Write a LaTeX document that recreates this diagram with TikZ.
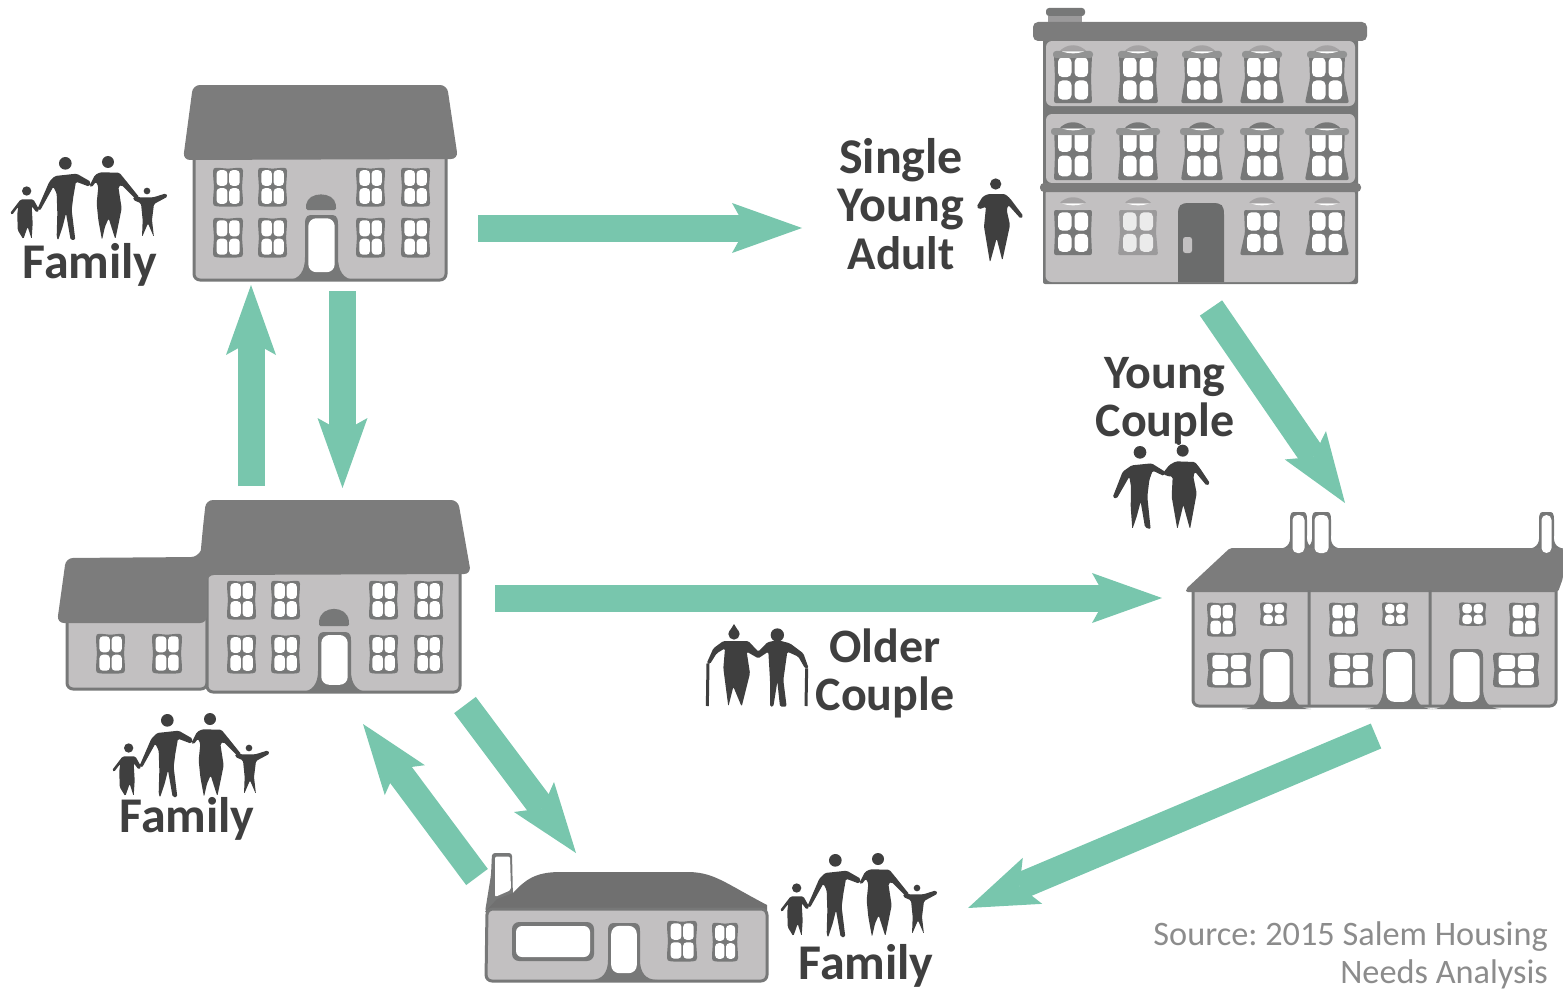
\documentclass[tikz,border=0pt]{standalone}
\usepackage{fontspec}
\setmainfont{Carlito}
\usetikzlibrary{arrows.meta}
\definecolor{flowgreen}{HTML}{78C6AD}
\definecolor{wallgray}{HTML}{C2C0C1}
\definecolor{roofgray}{HTML}{7C7C7C}
\definecolor{frmgray}{HTML}{777878}
\definecolor{inkgray}{HTML}{3F3F3F}
\definecolor{srcgray}{HTML}{8C8C8C}
\tikzset{
 flow/.style={draw=flowgreen,line width=27pt,-{Stealth[length=70pt,width=50pt,inset=14pt,line width=0pt,fill=flowgreen]}},
 wall/.style={fill=wallgray,draw=frmgray,line width=3pt,rounded corners=6pt},
 roof/.style={fill=roofgray,rounded corners=7pt},
 person/.style={fill=inkgray,rounded corners=1.5pt},
 label/.style={text=inkgray,font=\fontsize{50}{48}\selectfont\bfseries,align=center,inner sep=0pt},
 couplelabel/.style={label,font=\fontsize{48}{48}\selectfont\bfseries},
 source/.style={text=srcgray,font=\fontsize{34.3}{38}\selectfont\frenchspacing,align=right,inner sep=0pt,anchor=east}
}
% window: left top right bottom
\newcommand{\hwin}[4]{\begin{scope}[shift={(#1,#2)},xscale=#3-#1,yscale=#4-#2]
 \fill[frmgray] plot[smooth cycle] coordinates {(.1,.02)(.5,.04)(.9,.02)(1,.1)(.97,.5)(1,.9)(.9,.98)(.5,.99)(.1,.98)(0,.9)(.03,.5)(0,.1)};
 \fill[white,rounded corners=3.5pt] (.12,.08) rectangle (.48,.47) (.54,.08) rectangle (.89,.47) (.12,.53) rectangle (.48,.92) (.54,.53) rectangle (.89,.92);
\end{scope}}
% door: left top right base
\newcommand{\hdoor}[4]{\begin{scope}[shift={(#1,#2)},xscale=#3-#1,yscale=#4-#2]
 \fill[frmgray] (-.55,1) .. controls (-.15,1) and (0,.85) .. (0,.65) -- (0,.14) .. controls (0,0) and (.1,0) .. (.25,0) -- (.75,0) .. controls (.9,0) and (1,0) .. (1,.14) -- (1,.65) .. controls (1,.85) and (1.15,1) .. (1.55,1) -- cycle;
 \fill[white,rounded corners=8pt] (.1,.05) rectangle (.9,.88);
\end{scope}}
% door hood: left top right bottom
\newcommand{\hhood}[4]{\fill[frmgray,rounded corners=1.5pt] (#1,#4) -- (#1,#4-4) .. controls (#1+2,#2-3) and (#3-2,#2-3) .. (#3,#4-4) -- (#3,#4) -- cycle;}
% apartment window: cx top bottom tophalf bothalf frame pane
\newcommand{\awin}[7]{\begin{scope}[shift={(#1,#2)},yscale=#3-#2]
 \fill[#6,rounded corners=2pt] (-#4,0) -- (#4,0) -- (#4-1,.5) -- (#5,1) -- (-#5,1) -- (-#4+1,.5) -- cycle;
 \fill[#7,rounded corners=4.5pt] (-15,.05) rectangle (-1.5,.46) (1.5,.05) rectangle (15,.46) (-15,.53) rectangle (-1.5,.93) (1.5,.53) rectangle (15,.93);
\end{scope}}
% apartment hood: cx y domecolor bandcolor bandhalf
\newcommand{\ahood}[5]{\begin{scope}[shift={(#1,#2)}]
 \fill[#3] (-14,7) .. controls (-7,-2) and (7,-2) .. (14,7) -- cycle;
 \fill[#4,rounded corners=3pt] (-#5,6) rectangle (#5,13);
 \fill[white] (-11,6.5) .. controls (-4,9) and (4,9) .. (11,6.5) -- cycle;
\end{scope}}
% family, drawn in 3x coordinates
\newcommand{\family}[2]{\begin{scope}[shift={(#1,#2)},scale=1/3]
 \fill[inkgray] (80,333) circle (14) (196,250) circle (19) (324,246) circle (18) (441,333) circle (10);
 \fill[person] (30,400)--(62,358)--(100,358)--(118,390)--(110,398)--(95,378)--(98,430)--(95,478)--(83,440)--(70,478)--(53,450)--(52,400)--(55,380)--(36,405)--cycle;
 \fill[person] (112,388)--(148,305)--(165,288)--(230,281)--(272,305)--(268,320)--(228,305)--(220,350)--(215,390)--(226,480)--(212,480)--(198,400)--(188,440)--(174,482)--(170,470)--(172,400)--(170,340)--(160,320)--(120,392)--cycle;
 \fill[person] (268,318)--(285,285)--(300,277)--(358,278)--(372,295)--(418,352)--(412,362)--(365,315)--(355,320)--(365,385)--(358,420)--(346,478)--(326,415)--(315,440)--(306,480)--(295,420)--(290,370)--(295,320)--(288,305)--(275,322)--cycle;
 \fill[person] (400,350)--(420,352)--(460,352)--(498,340)--(503,350)--(462,372)--(456,420)--(462,472)--(444,430)--(426,472)--(428,420)--(423,370)--(400,360)--cycle;
\end{scope}}
\begin{document}
\begin{tikzpicture}[x=1pt,y=-1pt]
\useasboundingbox (0,0) rectangle (1563,990);
% connector ends
\coordinate (aS) at (478,228); \coordinate (aE) at (802,228);
\coordinate (bS) at (251,486); \coordinate (bE) at (251,285);
\coordinate (cS) at (342.5,291); \coordinate (cE) at (342.5,488);
\coordinate (dS) at (495,598); \coordinate (dE) at (1162,598);
\coordinate (eS) at (1211,308); \coordinate (eE) at (1345,503);
\coordinate (fS) at (1376,736); \coordinate (fE) at (968,908);
\coordinate (gS) at (465,705); \coordinate (gE) at (576,853);
\coordinate (hS) at (477,877); \coordinate (hE) at (363,724);
\draw[flow] (aS) -- (aE);
\draw[flow] (bS) -- (bE);
\draw[flow] (cS) -- (cE);
\draw[flow] (dS) -- (dE);
\draw[flow] (eS) -- (eE);
\draw[flow] (fS) -- (fE);
\draw[flow] (gS) -- (gE);
\draw[flow] (hS) -- (hE);
% house 1
\draw[wall] (194,150) -- (194,280) -- (446,280) -- (446,150) -- cycle;
\fill[roof] (193,85) -- (447,85) -- (458,159) -- (183,160) -- cycle;
\foreach \a/\b in {213/243,258/287,356/385,401/430}{\hwin{\a}{167}{\b}{207}\hwin{\a}{217}{\b}{258}}
\hhood{306}{194}{336}{210}
\hdoor{305}{215}{338}{280}
% house 2
\draw[wall] (67,610) -- (67,689) -- (207,689) -- (207,610) -- cycle;
\draw[wall] (207,560) -- (207,692) -- (460,692) -- (460,560) -- cycle;
\fill[roof] (66,558) -- (198,557) .. controls (201,550) and (202,535) .. (206,500) -- (458,500) -- (471,574) -- (207,575) -- (207,623) -- (57,623) -- cycle;
\foreach \a/\b in {227/256,271/300,369/398,414/443}{\hwin{\a}{580}{\b}{620}\hwin{\a}{634}{\b}{674}}
\hwin{96}{633}{125}{674}\hwin{152}{633}{182}{674}
\hhood{319}{608}{349}{626}
\hdoor{318}{632}{351}{692}
% apartment block
\fill[frmgray,rounded corners=3pt] (1046,8) rectangle (1085,16);
\fill[wallgray!80!black] (1048,16) rectangle (1082,23);
\fill[frmgray,rounded corners=2pt] (1043,30) rectangle (1358,284);
\fill[wallgray,rounded corners=6pt] (1046,41) rectangle (1355,106);
\fill[wallgray,rounded corners=6pt] (1046,114) rectangle (1355,183);
\fill[wallgray,rounded corners=6pt] (1045.5,188) rectangle (1355,282);
\fill[roofgray,rounded corners=5pt] (1033,22) rectangle (1367,41);
\fill[roofgray,rounded corners=4pt] (1040,183) rectangle (1361,192);
\foreach \c/\t/\b in {1073/19/19,1138/19/20,1202/18/21,1262/18/22,1327/18/22}{
 \awin{\c}{55}{103}{\t}{\b}{frmgray}{white}
 \ahood{\c}{45}{wallgray!85!black}{frmgray!80!white}{20}
 \awin{\c}{128}{180}{\t}{\b}{frmgray}{white}
 \ahood{\c}{122}{frmgray}{frmgray!80!white}{22}}
\foreach \c/\t/\b in {1073/19/19,1262/18/22,1327/18/22}{
 \awin{\c}{210}{255}{\t}{\b}{frmgray}{white}
 \ahood{\c}{197}{wallgray!85!black}{wallgray}{18}}
\awin{1138}{210}{255}{19}{20}{wallgray!80!black}{white!92!black}
\ahood{1138}{197}{wallgray!85!black}{wallgray}{18}
\fill[frmgray!90!black] (1178,282) -- (1178,215) .. controls (1178,205) and (1180,203) .. (1190,203) -- (1212,203) .. controls (1222,203) and (1224,205) .. (1224,215) -- (1224,282) -- cycle;
\fill[wallgray,rounded corners=2.5pt] (1183,237) rectangle (1192,253);
% terrace
\foreach \l/\r in {1290/1307,1312/1331,1539/1554}{
 \fill[frmgray] (\l-14,549) .. controls (\l-4,549) and (\l+1,545) .. (\l,535) -- (\l,520) .. controls (\l,512) and (\l+2,512) .. (\l+5,512) -- (\r-5,512) .. controls (\r-2,512) and (\r,512) .. (\r,520) -- (\r,535) .. controls (\r-1,545) and (\r+4,549) .. (\r+14,549) -- cycle;}
\draw[wall] (1193,585) -- (1193,706) -- (1556,706) -- (1556,585) -- cycle;
\fill[roofgray,rounded corners=2pt] (1186,589) -- (1230,548) -- (1563,548) -- (1563,578) -- (1558,592) -- (1186,592) -- cycle;
\foreach \l/\r in {1290/1307,1312/1331,1539/1554}{
 \fill[white,rounded corners=5pt] (\l+2.5,515) rectangle (\r-2.5,553);}
\fill[frmgray] (1307.5,590) rectangle (1310.5,706) (1428.5,590) rectangle (1431.5,706);
\foreach \a/\b in {1207/1236,1329/1358,1509/1539}{\hwin{\a}{602}{\b}{637}}
\foreach \a/\b in {1260/1287,1382/1408,1459/1486}{\hwin{\a}{602}{\b}{626}}
\foreach \a/\b in {1207/1251,1329/1373,1493/1539}{\hwin{\a}{652}{\b}{688}}
\hdoor{1260}{649}{1293}{709}
\hdoor{1383}{649}{1415}{709}
\hdoor{1450}{649}{1483}{709}
% bungalow
\fill[frmgray,rounded corners=3pt] (485,912) -- (491,875) -- (492,853) -- (512,853) -- (513,900) -- cycle;
\fill[white,rounded corners=2pt] (495,856.5) -- (510,856.5) -- (511,890) -- (495,897) -- cycle;
\fill[roofgray!90!black] (497,899) -- (513,893) .. controls (525,880) and (535,872) .. (560,872) -- (690,872) .. controls (715,873) and (725,883) .. (767,905) -- (767,912) -- (485,912) -- cycle;
\draw[wall] (487,909) -- (486,981) -- (767,981) -- (767,909) -- cycle;
\fill[frmgray,rounded corners=7pt] (512,922) rectangle (594,961);
\fill[white,rounded corners=6pt] (516,926) rectangle (590,957);
\hdoor{608}{923}{640}{980}
\hwin{667}{920}{697}{962}\hwin{712}{922}{738}{962}
% people
\family{0}{80}
\family{102}{637}
\family{770}{777}
% young couple
\begin{scope}[shift={(1100,440)},scale=1/3]
 \fill[inkgray] (120,37) circle (19) (248,32) circle (18) (236,8) circle (7);
 \fill[person] (38,172)--(68,95)--(95,76)--(155,70)--(195,95)--(192,108)--(158,92)--(148,120)--(142,170)--(152,268)--(135,262)--(122,185)--(110,230)--(97,268)--(92,200)--(93,140)--(88,110)--(50,176)--cycle;
 \fill[person] (188,100)--(208,75)--(228,64)--(285,66)--(300,85)--(330,130)--(320,137)--(285,95)--(280,110)--(290,160)--(270,268)--(250,195)--(232,268)--(215,170)--(218,110)--(200,108)--cycle;
\end{scope}
% older couple
\begin{scope}[shift={(690,610)},scale=1/3]
 \fill[inkgray] (132,72) circle (17) (262,75) circle (20);
 \fill[inkgray] (132,42) -- (116,68) -- (148,68) -- cycle;
 \fill[person] (50,160)--(70,115)--(100,93)--(175,93)--(205,125)--(232,97)--(262,90)--(300,100)--(340,130)--(356,175)--(345,175)--(325,140)--(292,125)--(280,210)--(290,290)--(270,290)--(262,215)--(250,290)--(240,290)--(240,210)--(235,125)--(205,145)--(170,125)--(180,190)--(155,290)--(130,230)--(115,290)--(100,175)--(105,115)--(80,130)--(60,162)--cycle;
 \draw[inkgray,line width=3pt] (54,160) -- (52,288) (350,175) -- (348,288);
\end{scope}
% single adult
\begin{scope}[shift={(960,170)},scale=1/3]
 \fill[inkgray] (107,42) circle (17);
 \fill[person] (50,110)--(68,80)--(85,72)--(135,72)--(150,85)--(190,138)--(182,146)--(145,105)--(140,120)--(150,165)--(127,272)--(110,205)--(90,278)--(72,170)--(78,110)--(58,118)--cycle;
\end{scope}
% labels
\node[label] (famA) at (90,265) {Family};
\node[label] (famB) at (187,819) {Family};
\node[label] (famC) at (866,966) {Family};
\node[label] (single) at (901,204) {Single\\Young\\{\fontsize{47}{48}\selectfont Adult}};
\node[couplelabel] (young) at (1165,401) {Young\\Couple};
\node[couplelabel] (older) at (885,673) {Older\\Couple};
\node[source] (src) at (1548,955) {Source: 2015 Salem Housing\\Needs Analysis};
\end{tikzpicture}
\end{document}
